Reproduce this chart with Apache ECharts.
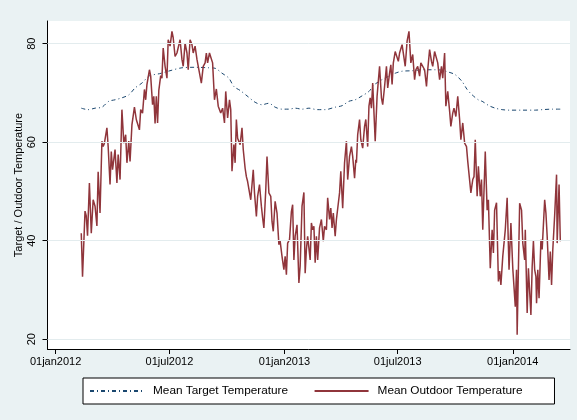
<!DOCTYPE html>
<html><head><meta charset="utf-8">
<script src="https://cdn.jsdelivr.net/npm/echarts@6/dist/echarts.min.js"></script>
<style>html,body{margin:0;padding:0;background:#eaf2f3}#c{width:577px;height:420px}</style>
</head><body><div id="c"></div>
<script>
// x values are days since 01jan2012
const tickDays = [0, 182, 366, 547, 731];
const tickLabels = ['01jan2012', '01jul2012', '01jan2013', '01jul2013', '01jan2014'];
const yTicks = [20, 40, 60, 80];
const seriesNames = ['Mean Target Temperature', 'Mean Outdoor Temperature'];

const targetDay = [41, 52, 63, 74, 85, 95, 106, 117, 127, 138, 149, 157, 166, 180, 202, 223, 245, 255, 266, 277, 285, 295, 308, 319, 330, 341, 351, 362, 373, 383, 394, 405, 418, 431, 447, 458, 469, 479, 490, 501, 509, 522, 533, 543, 554, 570, 586, 607, 618, 629, 639, 650, 658, 666, 677, 682, 693, 703, 714, 725, 746, 767, 778, 794, 807];
const targetTemp = [66.9, 66.6, 66.9, 67.1, 68.3, 68.6, 69.0, 69.6, 71.0, 72.0, 73.4, 73.7, 73.9, 74.4, 75.1, 75.2, 75.1, 75.0, 74.0, 73.0, 71.3, 70.5, 69.2, 68.1, 67.6, 67.9, 67.1, 66.7, 66.7, 66.9, 66.7, 66.9, 66.6, 66.6, 67.1, 67.4, 68.3, 68.6, 69.4, 70.3, 71.6, 72.7, 73.4, 74.0, 74.4, 74.5, 74.7, 74.7, 74.6, 74.2, 73.7, 72.3, 70.7, 69.6, 68.5, 68.3, 67.4, 66.9, 66.6, 66.5, 66.5, 66.5, 66.6, 66.7, 66.7];

const outdoorDay = [41, 43, 47, 49, 51, 54, 57, 60, 63, 66, 68, 71, 74, 76, 78, 82, 84, 87, 89, 91, 95, 98, 100, 103, 106, 109, 112, 114, 117, 119, 122, 126, 129, 131, 134, 136, 139, 142, 144, 146, 150, 152, 155, 157, 159, 161, 163, 165, 168, 170, 172, 175, 178, 180, 183, 186, 188, 191, 194, 196, 199, 202, 204, 207, 210, 212, 215, 218, 220, 223, 226, 228, 233, 236, 239, 241, 243, 246, 249, 251, 254, 257, 260, 264, 267, 270, 272, 275, 278, 280, 282, 285, 287, 289, 291, 293, 295, 298, 300, 303, 305, 307, 310, 312, 316, 318, 321, 323, 326, 329, 331, 333, 336, 338, 341, 344, 346, 348, 351, 354, 357, 359, 362, 365, 367, 369, 371, 374, 377, 379, 381, 383, 386, 389, 391, 394, 397, 399, 401, 403, 407, 409, 411, 413, 415, 417, 419, 422, 425, 428, 430, 433, 435, 438, 440, 442, 444, 447, 449, 451, 454, 456, 459, 462, 465, 467, 470, 473, 475, 478, 480, 481, 483, 486, 488, 491, 494, 496, 499, 501, 503, 505, 507, 511, 514, 516, 518, 521, 523, 526, 529, 531, 534, 536, 538, 540, 543, 546, 548, 550, 554, 556, 559, 562, 565, 568, 571, 574, 576, 579, 582, 584, 587, 590, 593, 595, 598, 601, 603, 606, 609, 611, 614, 617, 619, 622, 624, 627, 630, 632, 635, 637, 640, 643, 646, 648, 651, 654, 657, 659, 662, 664, 667, 669, 671, 674, 676, 679, 681, 683, 687, 690, 692, 695, 698, 700, 702, 705, 708, 710, 712, 715, 717, 719, 722, 725, 728, 731, 733, 735, 737, 738, 742, 745, 747, 750, 751, 754, 756, 758, 760, 762, 764, 766, 768, 769, 771, 773, 776, 778, 782, 784, 786, 789, 791, 793, 795, 798, 801, 802, 805, 807];
const outdoorTemp = [41.5, 32.7, 46.0, 45.0, 41.0, 51.7, 41.5, 48.3, 47.0, 43.0, 54.0, 45.6, 60.2, 59.1, 59.8, 62.9, 59.1, 51.4, 58.1, 54.4, 58.5, 51.7, 57.5, 52.4, 66.6, 59.8, 61.5, 55.8, 60.2, 56.1, 63.5, 67.1, 64.6, 64.9, 62.5, 66.6, 65.9, 70.7, 68.6, 71.7, 74.7, 73.4, 67.6, 69.3, 63.8, 69.3, 63.9, 70.5, 73.5, 73.0, 79.1, 75.4, 73.0, 80.8, 79.5, 82.5, 81.2, 77.4, 78.1, 77.8, 80.8, 76.8, 75.4, 80.1, 78.1, 74.7, 80.8, 79.8, 78.1, 79.5, 76.8, 76.4, 72.0, 75.4, 76.1, 78.1, 76.1, 78.1, 78.4, 76.1, 68.6, 70.8, 67.3, 65.9, 66.9, 63.9, 70.3, 64.9, 68.6, 66.6, 54.1, 59.5, 55.8, 64.6, 60.8, 61.2, 59.5, 62.9, 58.5, 54.7, 53.0, 52.0, 52.4, 48.3, 54.4, 49.7, 44.9, 49.0, 51.4, 47.0, 44.6, 42.6, 50.3, 57.1, 49.7, 49.0, 43.9, 41.9, 48.0, 45.6, 39.2, 39.9, 36.8, 34.1, 36.8, 33.1, 39.5, 40.2, 45.9, 47.3, 36.1, 40.9, 43.2, 31.4, 34.8, 47.0, 49.8, 33.4, 38.2, 40.9, 36.1, 43.6, 42.2, 42.9, 35.5, 40.9, 36.1, 42.6, 44.3, 39.9, 42.9, 42.2, 48.7, 44.3, 46.6, 42.6, 45.6, 40.9, 44.3, 44.3, 49.7, 54.1, 46.6, 55.8, 60.2, 52.4, 57.1, 59.1, 57.1, 52.7, 56.4, 55.8, 61.5, 64.6, 60.5, 58.8, 63.2, 64.6, 59.1, 67.3, 69.0, 66.9, 72.0, 60.2, 69.3, 72.4, 75.4, 69.0, 67.6, 71.3, 75.4, 71.0, 74.0, 75.7, 71.7, 76.1, 78.4, 78.1, 76.4, 78.1, 79.8, 79.5, 75.4, 80.5, 82.5, 76.1, 77.8, 72.7, 74.7, 75.4, 73.4, 76.1, 76.1, 74.7, 71.3, 74.7, 78.8, 76.4, 75.4, 78.4, 78.8, 76.1, 72.7, 75.4, 73.0, 78.1, 67.3, 70.3, 66.3, 63.2, 65.9, 66.9, 65.2, 69.3, 64.6, 60.5, 63.9, 59.8, 59.1, 56.1, 55.8, 49.7, 52.4, 53.0, 60.5, 49.0, 55.1, 49.0, 52.4, 42.2, 58.1, 46.2, 48.3, 34.4, 42.2, 37.5, 46.2, 47.7, 31.7, 33.8, 31.0, 36.8, 36.8, 42.2, 48.7, 34.1, 43.6, 34.4, 34.4, 26.6, 34.1, 20.9, 47.6, 46.2, 39.5, 36.1, 42.2, 25.3, 34.4, 34.7, 24.9, 34.7, 39.9, 34.1, 32.7, 27.3, 34.1, 28.3, 40.2, 38.2, 48.3, 45.6, 40.9, 32.0, 37.8, 31.0, 38.2, 45.2, 53.4, 39.5, 51.4, 39.9];

const FONT = '"Liberation Sans", Arial, Helvetica, sans-serif';
const NAVY = '#1a476f', MAROON = '#90353b', BG = '#eaf2f3';

const chart = echarts.init(document.getElementById('c'), null, {renderer: 'canvas'});
chart.setOption({
  backgroundColor: BG,
  animation: false,
  textStyle: {fontFamily: FONT, color: '#000'},
  grid: {left: 47.5, right: 7, top: 21, bottom: 71, show: true, backgroundColor: '#ffffff', borderWidth: 0, containLabel: false, outerBoundsMode: 'none'},
  xAxis: {
    type: 'value', min: -13, max: 822.5,
    axisLine: {show: true, onZero: false, lineStyle: {color: '#000', width: 1}},
    axisTick: {show: true, length: 5, customValues: tickDays, lineStyle: {color: '#000'}},
    axisLabel: {customValues: tickDays, formatter: v => tickLabels[tickDays.indexOf(v)], color: '#000', fontSize: 11, fontFamily: FONT, margin: 7},
    splitLine: {show: false}
  },
  yAxis: {
    type: 'value', min: 18, max: 84.6,
    name: 'Target / Outdoor Temperature', nameLocation: 'middle', nameGap: 23, nameRotate: 90,
    nameMoveOverlap: false,
    nameTextStyle: {fontSize: 11, color: '#000', fontFamily: FONT},
    axisLine: {show: true, onZero: false, lineStyle: {color: '#000', width: 1}},
    axisTick: {show: true, length: 5, customValues: yTicks, lineStyle: {color: '#000'}},
    axisLabel: {customValues: yTicks, rotate: 90, fontSize: 11, color: '#000', fontFamily: FONT, margin: 10},
    splitLine: {show: false}
  },
  legend: {
    data: seriesNames,
    left: 83, top: 378, orient: 'horizontal',
    backgroundColor: '#fff', borderColor: '#000', borderWidth: 1,
    padding: [7, 32, 7, 6],
    itemWidth: 54, itemHeight: 14, itemGap: 25.5,
    itemStyle: {opacity: 0},
    textStyle: {fontSize: 11.8, color: '#000', fontFamily: FONT, padding: [0, 0, 0, 4]}
  },
  series: [
    {type: 'line', name: 'grid', data: [], silent: true, z: 1,
     markLine: {silent: true, symbol: 'none', label: {show: false}, animation: false,
       lineStyle: {color: '#e3ecee', width: 1, type: 'solid'},
       data: yTicks.map(v => ({yAxis: v}))}},
    {type: 'line', name: seriesNames[0], data: targetDay.map((d, i) => [d, targetTemp[i]]),
     symbol: 'none', showSymbol: false, smooth: 0.3, z: 3,
     lineStyle: {color: NAVY, width: 1, type: [4, 3, 1, 3]}, itemStyle: {color: NAVY}},
    {type: 'line', name: seriesNames[1], data: outdoorDay.map((d, i) => [d, outdoorTemp[i]]),
     symbol: 'none', showSymbol: false, z: 4,
     lineStyle: {color: MAROON, width: 1.5}, itemStyle: {color: MAROON}}
  ]
});
</script>
</body></html>
